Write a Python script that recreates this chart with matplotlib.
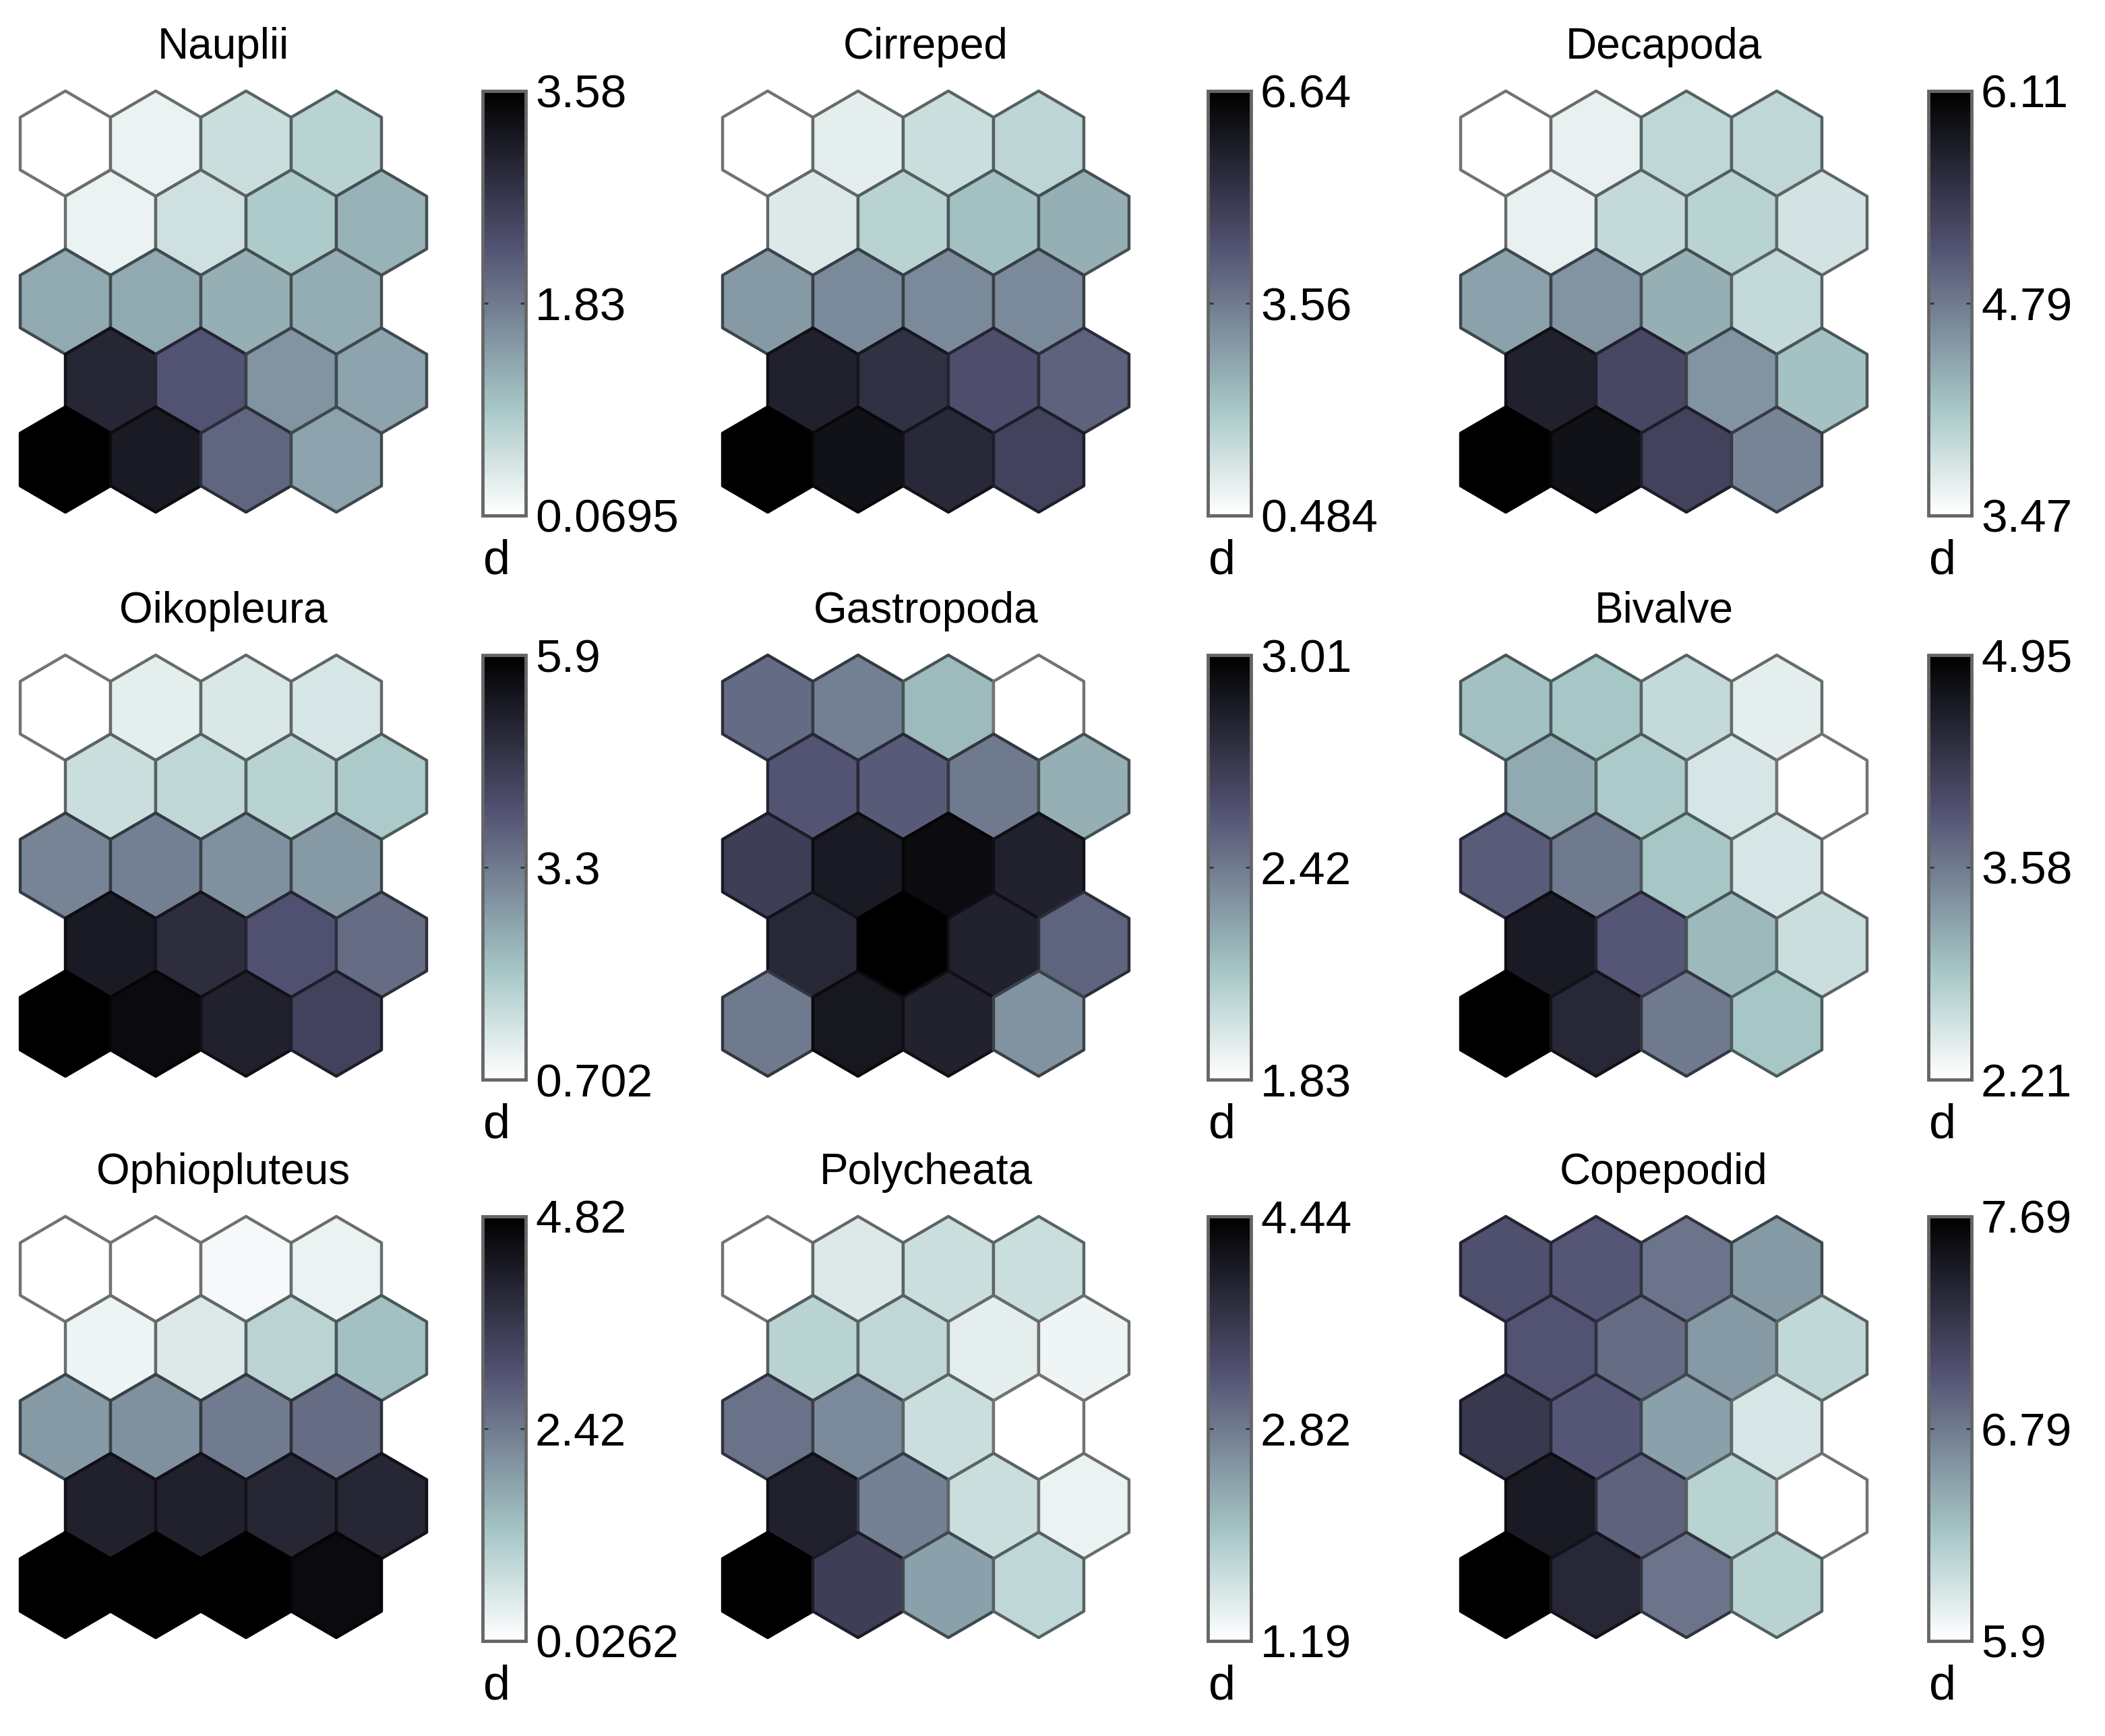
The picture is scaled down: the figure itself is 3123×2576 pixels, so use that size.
import numpy as np
import matplotlib.pyplot as plt
from matplotlib.patches import RegularPolygon
from matplotlib.collections import PatchCollection
from matplotlib.colors import Normalize

plt.rcParams['font.family'] = ['Liberation Sans', 'DejaVu Sans']

# component planes, 5 rows (top to bottom) x 4 units, odd rows shifted right
names = ["Nauplii", "Cirreped", "Decapoda",
         "Oikopleura", "Gastropoda", "Bivalve",
         "Ophiopluteus", "Polycheata", "Copepodid"]

nauplii = [[0.07, 0.28, 0.60, 0.77],
           [0.28, 0.56, 0.88, 1.19],
           [1.30, 1.30, 1.23, 1.26],
           [2.98, 2.28, 1.54, 1.37],
           [3.58, 3.16, 2.07, 1.37]]
cirreped = [[0.48, 0.98, 1.41, 1.65],
            [1.10, 1.72, 2.15, 2.52],
            [2.95, 3.25, 3.25, 3.25],
            [5.72, 5.29, 4.49, 4.05],
            [6.64, 6.15, 5.53, 4.79]]
decapoda = [[3.47, 3.65, 3.95, 3.95],
            [3.65, 3.92, 4.00, 3.81],
            [4.47, 4.58, 4.34, 3.92],
            [5.71, 5.27, 4.58, 4.18],
            [6.11, 5.90, 5.32, 4.71]]
oikopleura = [[0.70, 1.12, 1.27, 1.33],
              [1.48, 1.64, 1.74, 1.95],
              [3.15, 3.20, 2.94, 2.78],
              [5.28, 4.86, 4.03, 3.56],
              [5.90, 5.64, 5.12, 4.34]]
gastropoda = [[2.48, 2.40, 2.18, 1.83],
              [2.57, 2.54, 2.42, 2.22],
              [2.68, 2.87, 2.95, 2.83],
              [2.80, 3.01, 2.83, 2.51],
              [2.42, 2.89, 2.83, 2.33]]
bivalve = [[2.95, 2.90, 2.68, 2.43],
           [3.17, 2.87, 2.54, 2.21],
           [3.85, 3.58, 2.90, 2.54],
           [4.62, 3.91, 3.03, 2.62],
           [4.95, 4.46, 3.58, 2.90]]
ophiopluteus = [[0.03, 0.03, 0.17, 0.31],
                [0.27, 0.51, 0.98, 1.32],
                [1.94, 2.09, 2.42, 2.66],
                [4.10, 4.10, 4.00, 4.00],
                [4.82, 4.82, 4.82, 4.58]]
polycheata = [[1.19, 1.52, 1.68, 1.68],
              [1.84, 1.78, 1.45, 1.35],
              [2.91, 2.65, 1.68, 1.19],
              [3.95, 2.75, 1.68, 1.39],
              [4.44, 3.53, 2.43, 1.78]]
copepodid = [[7.06, 7.01, 6.83, 6.62],
             [7.03, 6.88, 6.62, 6.22],
             [7.24, 7.01, 6.58, 6.11],
             [7.48, 6.94, 6.26, 5.90],
             [7.69, 7.37, 6.83, 6.26]]
planes = [nauplii, cirreped, decapoda, oikopleura, gastropoda,
          bivalve, ophiopluteus, polycheata, copepodid]

vmins = [0.0695, 0.484, 3.47, 0.702, 1.83, 2.21, 0.0262, 1.19, 5.9]
vmaxs = [3.58, 6.64, 6.11, 5.9, 3.01, 4.95, 4.82, 4.44, 7.69]
tick_labels = [["0.0695", "1.83", "3.58"], ["0.484", "3.56", "6.64"],
               ["3.47", "4.79", "6.11"], ["0.702", "3.3", "5.9"],
               ["1.83", "2.42", "3.01"], ["2.21", "3.58", "4.95"],
               ["0.0262", "2.42", "4.82"], ["1.19", "2.82", "4.44"],
               ["5.9", "6.79", "7.69"]]

W, H = 3123, 2576
fig = plt.figure(figsize=(W / 100, H / 100), dpi=100)


def px_axes(x, y, w, h):
    return fig.add_axes([x / W, 1 - (y + h) / H, w / W, h / H])


hex_left = [30, 1072, 2167]
cbar_x = [713, 1789, 2858]
row_top = [135, 972, 1805]
hex_w, hex_h = 603, 625
dy = np.sqrt(3) / 2
rad = 1 / np.sqrt(3)

for i, (name, vals) in enumerate(zip(names, planes)):
    r, c = divmod(i, 3)
    vals = np.array(vals)
    ax = px_axes(hex_left[c], row_top[r], hex_w, hex_h)
    hexes = []
    for row in range(vals.shape[0]):
        for col in range(vals.shape[1]):
            x = col + 0.5 * (row % 2)
            hexes.append(RegularPolygon((x, row * dy), 6, radius=rad))
    norm = Normalize(vmins[i], vmaxs[i])
    pc = PatchCollection(hexes, cmap='bone_r', norm=norm)
    pc.set_array(vals.ravel())
    edge = plt.get_cmap('bone_r')(norm(vals.ravel()))[:, :3] * 0.45
    pc.set_edgecolor(edge)
    pc.set_linewidth(3.2)
    pc.set_clip_on(False)
    ax.add_collection(pc)
    ax.set_xlim(-0.5, 4.0)
    ax.set_ylim(4 * dy + rad, -rad)
    ax.axis('off')

    fig.text((hex_left[c] + hex_w / 2) / W, 1 - (row_top[r] - 65) / H, name,
             ha='center', va='center', fontsize=46)

    cax = px_axes(cbar_x[c] + 3, row_top[r], 64, 630)
    cb = fig.colorbar(pc, cax=cax)
    cb.set_ticks([vmins[i], (vmins[i] + vmaxs[i]) / 2, vmaxs[i]])
    cb.set_ticklabels(tick_labels[i])
    cb.outline.set_edgecolor('#666666')
    cb.outline.set_linewidth(3.5)
    cax.tick_params(direction='in', length=6, width=2, left=True, right=True,
                    labelsize=50, pad=10, colors='#333333', labelcolor='black')
    fig.text((cbar_x[c] + 4) / W, 1 - (row_top[r] + 698) / H, "d",
             ha='left', va='center', fontsize=52)

fig.savefig("out.png", dpi=100)
